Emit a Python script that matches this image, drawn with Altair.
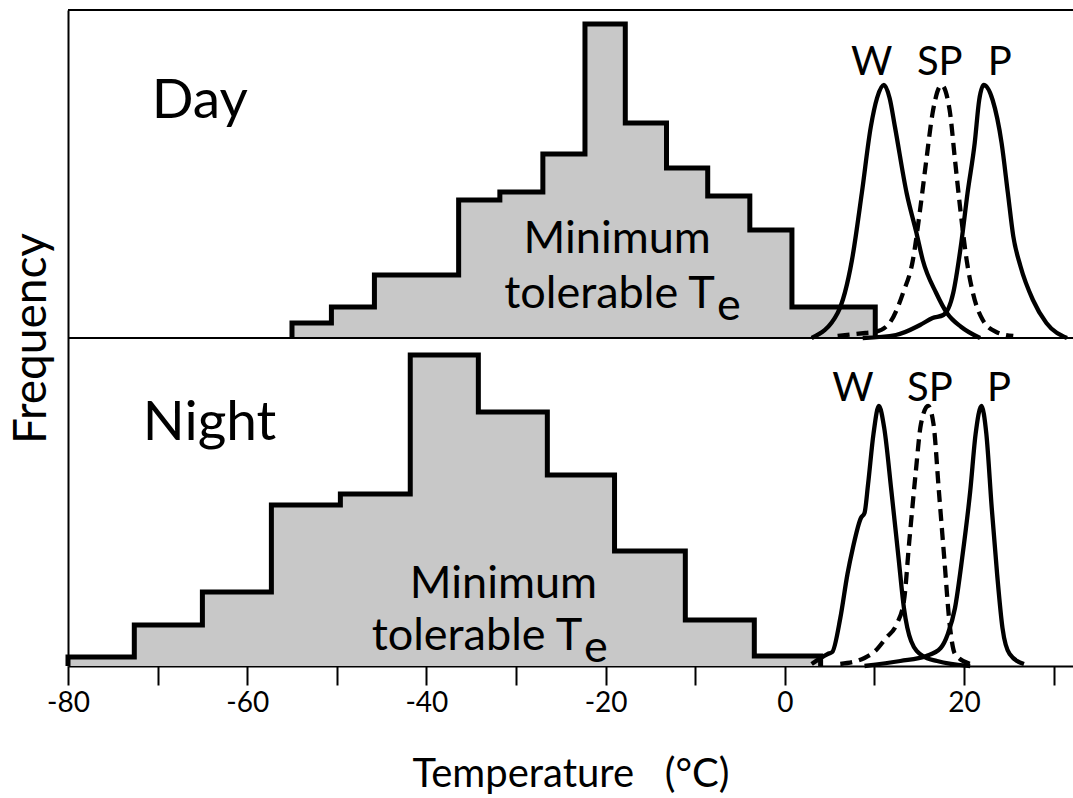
import altair as alt
import pandas as pd

# ---------------- data (x in degC, frequency in relative units; panel height = 328) ----------------
PANEL = 328

day_edges = [-55.0, -50.6, -45.8, -36.4, -31.8, -27.0, -22.3, -17.8, -13.2, -8.6, -3.9, 0.8, 10.1]
day_counts = [15, 31, 63, 138, 146, 184, 314, 215, 170, 142, 108, 31]

night_edges = [-80.0, -72.6, -65.0, -57.3, -49.6, -41.8, -34.2, -26.5, -19.0, -11.1, -3.4, 4.0]
night_counts = [9, 41, 74, 161, 172, 311, 254, 191, 115, 46, 10]

day_W_x = [3.0, 5.9, 7.5, 8.6, 9.6, 10.3, 11.07, 11.7, 12.3, 13.6, 14.7, 15.4, 16.9, 18.1, 19.7, 21.8]
day_W_y = [0, 25, 78, 145, 211, 240, 253, 240, 211, 145, 105, 78, 45, 25, 11, 0]
day_SP_x = [5.9, 9.0, 10.1, 11.7, 13.2, 14.3, 15.1, 15.8, 16.5, 17.5, 18.4, 19.0, 19.6, 20.3, 21.0, 22.1, 23.6, 25.5]
day_SP_y = [2, 5, 6, 15, 45, 78, 128, 178, 225, 253, 228, 178, 128, 78, 45, 18, 6, 2]
day_P_x = [8.7, 12.4, 15.1, 16.5, 17.7, 18.8, 19.7, 20.4, 21.2, 21.7, 22.2, 23.2, 24.2, 24.9, 25.5, 26.3, 27.7, 29.2, 31.5]
day_P_y = [0, 3, 13, 20, 23, 45, 95, 145, 195, 238, 253, 238, 195, 145, 102, 72, 38, 15, 0]

night_W_x = [3.0, 4.8, 5.3, 6.2, 7.0, 7.6, 8.5, 8.9, 9.3, 9.9, 10.5, 11.1, 11.9, 12.7, 13.3, 14.1, 15.4, 17.0, 20.7]
night_W_y = [2, 12, 14, 48, 92, 118, 148, 153, 182, 232, 260, 238, 175, 108, 58, 25, 10, 5, 0]
night_SP_x = [6.2, 8.9, 10.1, 11.3, 12.5, 13.3, 13.9, 14.6, 15.2, 16.0, 16.6, 17.2, 17.8, 18.4, 19.0, 20.7]
night_SP_y = [2, 8, 15, 28, 42, 65, 125, 192, 242, 260, 242, 175, 108, 42, 12, 2]
night_P_x = [8.9, 12.9, 15.8, 17.4, 18.2, 19.0, 19.8, 20.7, 21.3, 21.95, 22.5, 23.1, 23.7, 24.3, 25.1, 26.7]
night_P_y = [0, 5, 10, 18, 32, 58, 108, 175, 232, 260, 232, 158, 92, 38, 12, 2]

panel_names = ["Day", "Night"]
panel_label_x = [-65.3, -64.2]
panel_label_y = [220, 226]

minimum_x = [-18.7, -31.4]
minimum_y = [85, 68]
tolerable_x = [-7.8, -22.6]
tolerable_y = [30, 16]
sub_e_x = [-7.57, -22.4]
sub_e_y = [18, 4]

species = ["W", "SP", "P"]
day_species_x = [9.7, 17.3, 24.0]
night_species_x = [7.6, 16.2, 23.9]
day_species_y = [263, 263, 263]
night_species_y = [265, 265, 265]

x_ticks = list(range(-80, 31, 10))

# ---------------- tables ----------------
def hist_df(edges, counts, panel):
    xs = [edges[0]] + edges[:-1] + [edges[-1]]
    hs = [0] + counts + [0]
    return pd.DataFrame({"x": xs, "h": hs, "i": list(range(len(xs))), "panel": panel})

hist = pd.concat([hist_df(day_edges, day_counts, "Day"),
                  hist_df(night_edges, night_counts, "Night")], ignore_index=True)

curve_rows = []
for panel, sp, xs, hs in [
    ("Day", "W", day_W_x, day_W_y), ("Day", "SP", day_SP_x, day_SP_y), ("Day", "P", day_P_x, day_P_y),
    ("Night", "W", night_W_x, night_W_y), ("Night", "SP", night_SP_x, night_SP_y), ("Night", "P", night_P_x, night_P_y),
]:
    for i, (xv, hv) in enumerate(zip(xs, hs)):
        curve_rows.append({"x": xv, "h": hv, "panel": panel, "species": sp, "i": i})
curves = pd.DataFrame(curve_rows)

titles = pd.DataFrame({"x": panel_label_x, "h": panel_label_y, "panel": panel_names, "text": panel_names})
minimum = pd.DataFrame({"x": minimum_x, "h": minimum_y, "panel": panel_names, "text": ["Minimum"] * 2})
tolerable = pd.DataFrame({"x": tolerable_x, "h": tolerable_y, "panel": panel_names, "text": ["tolerable T"] * 2})
sube = pd.DataFrame({"x": sub_e_x, "h": sub_e_y, "panel": panel_names, "text": ["e"] * 2})
sp_labels = pd.DataFrame({
    "x": day_species_x + night_species_x,
    "h": day_species_y + night_species_y,
    "panel": ["Day"] * 3 + ["Night"] * 3,
    "text": species + species,
})

FONT = "Lato"
stack_expr = f"datum.h + (datum.panel == 'Day' ? {PANEL} : 0)"
base_expr = f"datum.panel == 'Day' ? {PANEL} : 0"

xscale = alt.Scale(domain=[-80, 32.17], nice=False, zero=False)
yscale = alt.Scale(domain=[0, 2 * PANEL], nice=False, zero=False)

X = alt.X("x:Q", scale=xscale, axis=alt.Axis(
    values=x_ticks, grid=False, tickSize=19, tickWidth=2, tickColor="black",
    domainColor="black", domainWidth=2, labelFlush=False, labelOverlap=False,
    labelExpr="datum.value % 20 == 0 ? toString(datum.value) : ''",
    labelFont=FONT, labelFontSize=28, labelColor="black", labelPadding=4,
    title="Temperature\u00a0\u00a0\u00a0(°C)", titleFont=FONT, titleFontSize=40,
    titleFontWeight="normal", titleColor="black", titleY=120, titleBaseline="alphabetic",
))
Y = alt.Y("y:Q", scale=yscale, axis=alt.Axis(
    grid=False, ticks=False, labels=False, domainColor="black", domainWidth=2,
    title="Frequency", titleFont=FONT, titleFontSize=46, titleFontWeight="normal",
    titleColor="black", titleX=-23, titleY=PANEL, titleBaseline="alphabetic",
    titleAngle=-90, titleAlign="center",
))

area = alt.Chart(hist).transform_calculate(y=stack_expr, base=base_expr).mark_area(
    interpolate="step-after", color="#C8C8C8"
).encode(x=X, y=Y, y2="base:Q", detail="panel:N")

step = alt.Chart(hist).transform_calculate(y=stack_expr).mark_line(
    interpolate="step-after", color="black", strokeWidth=5, strokeJoin="miter"
).encode(x="x:Q", y="y:Q", detail="panel:N", order="i:Q")

solid = alt.Chart(curves).transform_filter("datum.species != 'SP'").transform_calculate(
    y=stack_expr).mark_line(interpolate="monotone", color="black", strokeWidth=4.3).encode(
    x="x:Q", y="y:Q", detail=["panel:N", "species:N"], order="i:Q")

dashed = alt.Chart(curves).transform_filter("datum.species == 'SP'").transform_calculate(
    y=stack_expr).mark_line(interpolate="monotone", color="black", strokeWidth=4.3,
                            strokeDash=[12, 7]).encode(
    x="x:Q", y="y:Q", detail="panel:N", order="i:Q")

mid_rule = alt.Chart(pd.DataFrame({"y": [PANEL]})).mark_rule(color="black", strokeWidth=2).encode(y="y:Q")
top_rule = alt.Chart(pd.DataFrame({"y": [2 * PANEL]})).mark_rule(color="black", strokeWidth=2).encode(y="y:Q")

def text_layer(df, size, align):
    return alt.Chart(df).transform_calculate(y=stack_expr).mark_text(
        font=FONT, fontSize=size, align=align, baseline="alphabetic", color="black"
    ).encode(x="x:Q", y="y:Q", text="text:N")

chart = alt.layer(
    area, step, solid, dashed, mid_rule, top_rule,
    text_layer(titles, 55, "center"),
    text_layer(minimum, 45, "center"),
    text_layer(tolerable, 45, "right"),
    text_layer(sube, 45, "left"),
    text_layer(sp_labels, 40, "center"),
).properties(
    width=1005, height=2 * PANEL,
    padding={"left": 68, "top": 10, "right": 0, "bottom": 132},
    autosize=alt.AutoSizeParams(type="none"),
    background="white",
).configure_view(stroke=None)

chart.save("out.html", embed_options={"renderer": "svg", "actions": False})
